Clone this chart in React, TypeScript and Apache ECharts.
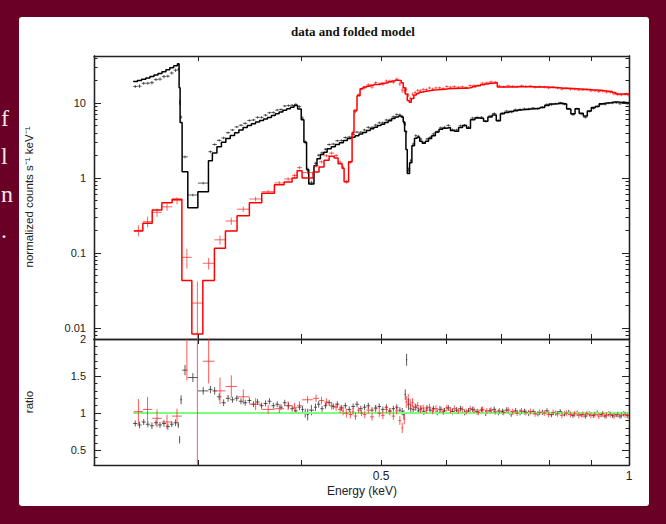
import React, { useEffect, useRef } from 'react';
import * as echarts from 'echarts';

// ---------- axis ranges and ticks ----------
const energyRange = [0.2241, 1.0];
const countsRange = [0.0071, 42.4];
const ratioRange = [0.3, 2.0];

const energyTicks = [0.3, 0.4, 0.5, 0.6, 0.7, 0.8, 0.9, 1.0];
const energyLabelValues = [0.5, 1.0];
const energyLabels = ['0.5', '1'];
const countsMajor = [0.01, 0.1, 1, 10];
const countsLabels = ['0.01', '0.1', '1', '10'];
const countsMinor = [0.008, 0.009, 0.02, 0.03, 0.04, 0.05, 0.06, 0.07, 0.08, 0.09, 0.2, 0.3, 0.4, 0.5, 0.6, 0.7, 0.8, 0.9, 2, 3, 4, 5, 6, 7, 8, 9, 20, 30, 40];
const ratioMajor = [0.5, 1, 1.5, 2];
const ratioLabels = ['0.5', '1', '1.5', '2'];
const ratioMinor = [0.3, 0.4, 0.6, 0.7, 0.8, 0.9, 1.1, 1.2, 1.3, 1.4, 1.6, 1.7, 1.8, 1.9];
const unityLine = [0.25, 1.0];

// ---------- black spectrum (bin edges keV, folded model, data/model ratio, ratio error) ----------
const blackEdges = [
  0.25, 0.253, 0.256, 0.259, 0.262, 0.265, 0.268, 0.271, 0.274, 0.277, 0.28, 0.283,
  0.2843, 0.2851, 0.2867, 0.2913, 0.2996, 0.3086,
  0.312, 0.316, 0.32, 0.324, 0.328, 0.332, 0.336, 0.34, 0.344, 0.348, 0.352, 0.356, 0.36, 0.364, 0.368, 0.372, 0.376, 0.38, 0.384, 0.388, 0.392, 0.396, 0.4,
  0.403, 0.406, 0.4085, 0.4145,
  0.418, 0.422, 0.426, 0.43, 0.435, 0.44, 0.445, 0.45, 0.455, 0.46, 0.465, 0.47, 0.475, 0.48, 0.485, 0.49, 0.495, 0.5, 0.505, 0.51, 0.515, 0.52, 0.525, 0.529,
  0.532, 0.534, 0.536, 0.538, 0.5415, 0.545,
  0.549, 0.553, 0.557, 0.561, 0.566, 0.571, 0.576, 0.582, 0.588, 0.594, 0.6, 0.607, 0.614, 0.621, 0.628, 0.635, 0.642, 0.65, 0.658, 0.666, 0.674, 0.682, 0.69, 0.698, 0.706, 0.715, 0.724, 0.733, 0.742, 0.751, 0.76,
  0.77, 0.78, 0.79, 0.8, 0.81, 0.82, 0.83, 0.84, 0.85, 0.86, 0.87, 0.88, 0.89, 0.9, 0.91, 0.92, 0.93, 0.94, 0.95, 0.96, 0.97, 0.98, 0.99, 1.0,
];
const blackModel = [
  19.3, 20.0, 20.8, 21.6, 22.5, 23.6, 24.8, 26.2, 27.8, 29.6, 31.5,
  33.5, 16, 5.5, 1.21, 0.40, 0.657,
  1.7, 2.15, 2.6, 3.0, 3.35, 3.7, 4.0, 4.36, 4.7, 5.0, 5.3, 5.6, 5.85, 6.1, 6.4, 6.8, 7.2, 7.6, 8.0, 8.4, 8.8, 9.3, 8.3,
  6.0, 3.0, 1.3, 0.83,
  1.45, 1.8, 2.05, 2.2, 2.45, 2.6, 2.8, 2.95, 3.15, 3.35, 3.5, 3.65, 3.85, 4.05, 4.3, 4.55, 4.75, 5.0, 5.2, 5.5, 5.8, 6.2, 6.5, 6.7,
  6.5, 5.6, 4.2, 2.4, 1.15, 1.6,
  2.7, 3.4, 3.5, 3.1, 2.9, 3.1, 3.35, 3.65, 4.1, 4.45, 4.6, 4.7, 4.3, 4.2, 4.7, 5.0, 4.6, 6.0, 6.3, 6.2, 5.7, 6.5, 6.9, 5.8, 7.2, 7.5, 7.7, 7.9, 8.1, 8.2, 8.3,
  8.4, 8.5, 8.7, 9.3, 9.7, 9.8, 9.9, 9.7, 8.3, 7.2, 8.4, 7.3, 6.7, 7.8, 8.7, 9.0, 9.8, 10.0, 10.1, 10.3, 10.3, 10.2, 10.2, 10.1,
];
const blackRatio = [
  0.86, 0.84, 0.88, 0.85, 0.83, 0.87, 0.84, 0.86, 0.82, 0.85, 0.87,
  0.84, 0.64, 1.18, 1.58, 1.48, 1.30,
  1.32, 1.3, 1.22, 1.14, 1.2, 1.18, 1.2, 1.16, 1.14, 1.17, 1.12, 1.15, 1.1, 1.13, 1.16, 1.1, 1.12, 1.08, 1.14, 1.1, 1.06, 1.03, 1.08,
  1.05, 1.0, 0.98, 1.04,
  1.08, 1.12, 1.06, 1.1, 1.14, 1.09, 1.12, 1.07, 1.1, 1.05, 1.09, 1.12, 1.06, 1.08, 1.1, 1.04, 1.07, 1.09, 1.05, 1.08, 1.03, 1.06, 1.08, 1.04,
  1.02, 0.98, 1.25, 1.72, 1.12, 1.06,
  1.05, 1.08, 1.03, 1.06, 1.02, 1.07, 1.04, 1.06, 1.01, 1.05, 1.03, 1.07, 1.02, 1.04, 1.06, 1.01, 1.03, 1.05, 1.02, 1.04, 1.0, 1.03, 1.05, 1.01, 1.02, 1.04, 0.99, 1.03, 1.01, 1.02, 1.0,
  1.02, 0.99, 1.01, 1.03, 0.98, 1.0, 1.02, 0.99, 1.01, 0.97, 1.0, 0.98, 0.96, 0.99, 0.97, 1.0, 0.98, 0.96, 0.99, 0.97, 0.98, 0.96, 0.99, 0.97,
];
const blackErr = [
  0.04, 0.045, 0.04, 0.04, 0.045, 0.04, 0.04, 0.045, 0.04, 0.04, 0.045,
  0.04, 0.05, 0.06, 0.07, 0.06, 0.05,
  0.05, 0.05, 0.045, 0.045, 0.045, 0.04, 0.04, 0.04, 0.04, 0.04, 0.04, 0.04, 0.04, 0.04, 0.04, 0.04, 0.04, 0.04, 0.04, 0.04, 0.04, 0.04, 0.04,
  0.05, 0.06, 0.08, 0.07,
  0.05, 0.045, 0.04, 0.04, 0.04, 0.04, 0.04, 0.04, 0.04, 0.04, 0.04, 0.04, 0.04, 0.04, 0.04, 0.04, 0.04, 0.04, 0.04, 0.04, 0.04, 0.04, 0.04, 0.04,
  0.05, 0.06, 0.07, 0.08, 0.08, 0.06,
  0.05, 0.045, 0.045, 0.045, 0.045, 0.04, 0.04, 0.04, 0.04, 0.04, 0.04, 0.04, 0.04, 0.04, 0.04, 0.04, 0.04, 0.04, 0.04, 0.04, 0.04, 0.04, 0.04, 0.04, 0.04, 0.04, 0.04, 0.04, 0.04, 0.04, 0.04,
  0.035, 0.035, 0.035, 0.035, 0.035, 0.035, 0.035, 0.035, 0.035, 0.035, 0.035, 0.035, 0.035, 0.035, 0.035, 0.035, 0.035, 0.035, 0.035, 0.035, 0.035, 0.035, 0.035, 0.035,
];

// ---------- red spectrum ----------
const redEdges = [
  0.2505, 0.2569, 0.2637, 0.2709, 0.2788, 0.2865, 0.2946, 0.3038, 0.3138, 0.3236, 0.3343, 0.346, 0.3582, 0.3711, 0.3813, 0.3899, 0.3954, 0.4009, 0.4134, 0.4204, 0.4263, 0.4324, 0.4385, 0.4434, 0.4484, 0.4509, 0.4566, 0.4611, 0.4636, 0.4675, 0.4715, 0.4755,
  0.48, 0.485, 0.49, 0.495, 0.5, 0.505, 0.51, 0.515, 0.52, 0.525, 0.529, 0.532, 0.535, 0.538, 0.541, 0.544, 0.548, 0.552, 0.556, 0.56, 0.565, 0.57, 0.575, 0.58, 0.586, 0.592, 0.598, 0.604, 0.61, 0.617, 0.624, 0.631, 0.638, 0.645, 0.652, 0.66, 0.668, 0.676, 0.684, 0.692, 0.7, 0.709, 0.718, 0.727, 0.736, 0.745, 0.754, 0.764, 0.774, 0.784, 0.794, 0.804, 0.814, 0.824, 0.834, 0.844, 0.854, 0.864, 0.874, 0.884, 0.894, 0.904, 0.914, 0.924, 0.934, 0.944, 0.954, 0.964, 0.974, 0.984, 0.994, 1.0,
];
const redModel = [
  0.196, 0.249, 0.374, 0.468, 0.52, 0.0428, 0.0083, 0.0428, 0.115, 0.196, 0.314, 0.468, 0.625, 0.81, 0.88, 1.0, 1.25, 1.0, 1.2, 1.4, 1.72, 1.95, 1.85, 1.55, 1.35, 0.89, 1.65, 4.0, 8.0, 12.5, 15.5,
  16.3, 16.8, 17.2, 17.6, 17.9, 18.3, 18.7, 19.2, 19.7, 20.2, 20.0, 18.6, 16.0, 13.2, 10.8, 10.2, 11.5, 12.8, 13.4, 13.9,
  14.2, 14.5, 14.7, 14.9, 15.0, 15.2, 15.3, 15.5, 15.6, 15.6, 15.7, 15.7, 15.8, 16.1, 16.5, 17.0, 17.5, 18.0, 18.4, 18.6,
  16.4, 16.3, 16.3, 16.4, 16.5, 16.5, 16.5, 16.5, 16.4, 16.4, 16.3, 16.2, 16.1, 16.0, 15.8, 15.7, 15.6, 15.5, 15.4, 15.3,
  15.2, 15.0, 14.9, 14.8, 14.6, 14.4, 14.2, 13.8, 13.2, 13.2, 13.3, 13.2,
];
const redRatio = [
  1.02, 1.05, 0.93, 0.88, 0.96, 2.04, 2.58, 1.70, 1.30, 1.36, 1.22, 1.12, 1.05, 1.06, 1.1, 1.08, 1.1, 1.18, 1.2, 1.17, 1.15, 1.1, 1.08, 1.05, 1.03, 1.0, 0.98, 1.02, 0.96, 1.04, 1.0,
  0.98, 1.04, 0.95, 1.06, 1.0, 0.97, 1.05, 1.02, 0.96, 1.03, 0.9, 0.8, 0.92, 1.15, 1.18, 1.12, 1.14, 1.08, 1.1, 1.05,
  1.07, 1.04, 1.08, 1.03, 1.06, 1.05, 1.02, 1.07, 1.04, 1.06, 1.03, 1.05, 1.02, 1.06, 1.04, 1.01, 1.05, 1.03, 1.04, 1.02,
  1.03, 1.01, 1.04, 1.02, 1.0, 1.03, 1.01, 1.02, 0.99, 1.01, 1.0, 0.98, 1.01, 0.99, 0.97, 1.0, 0.98, 0.99, 0.97, 0.98,
  0.99, 0.97, 0.98, 0.96, 0.99, 0.97, 0.98, 0.96, 0.98, 0.97, 0.98, 0.97,
];
const redErr = [
  0.17, 0.17, 0.12, 0.1, 0.1, 0.6, 2.4, 0.3, 0.18, 0.15, 0.1, 0.08, 0.06, 0.06, 0.06, 0.06, 0.06, 0.05, 0.05, 0.05, 0.05, 0.05, 0.05, 0.05, 0.06, 0.06, 0.05, 0.05, 0.05, 0.04, 0.04,
  0.05, 0.05, 0.05, 0.05, 0.05, 0.05, 0.05, 0.05, 0.05, 0.05, 0.06, 0.07, 0.07, 0.08, 0.08, 0.07, 0.06, 0.05, 0.05, 0.05,
  0.045, 0.045, 0.045, 0.045, 0.045, 0.045, 0.045, 0.045, 0.045, 0.045, 0.04, 0.04, 0.04, 0.04, 0.04, 0.04, 0.04, 0.04, 0.04, 0.04,
  0.04, 0.04, 0.04, 0.04, 0.04, 0.04, 0.04, 0.04, 0.04, 0.04, 0.04, 0.04, 0.04, 0.04, 0.04, 0.04, 0.04, 0.04, 0.04, 0.04,
  0.04, 0.04, 0.04, 0.04, 0.04, 0.04, 0.04, 0.04, 0.04, 0.04, 0.04, 0.04,
];

// slide text fragments visible at the left edge
const sideFragments = ['f', 'l', 'n', '.'];

// ---------- helpers ----------
const lg = (v: number) => Math.log10(v);
const SANS = '"Liberation Sans", Arial, Helvetica, sans-serif';
const SERIF = '"Liberation Serif", "DejaVu Serif", serif';
const INK = '#222';

function stepPoints(edges: number[], model: number[]) {
  const pts: number[][] = model.map((m, i) => [lg(edges[i]), lg(m)]);
  pts.push([lg(edges[edges.length - 1]), lg(model[model.length - 1])]);
  return pts;
}

function topCrosses(edges: number[], model: number[], ratio: number[], err: number[]) {
  return model.map((m, i) => {
    const lo = edges[i];
    const hi = edges[i + 1];
    const d = m * ratio[i];
    const e = m * err[i];
    const yl = Math.max(d - e, 1e-4);
    return [lg(lo), lg(hi), lg((lo + hi) / 2), lg(d), lg(yl), lg(d + e)];
  });
}

function ratioCrosses(edges: number[], ratio: number[], err: number[]) {
  return ratio.map((r, i) => {
    const lo = edges[i];
    const hi = edges[i + 1];
    return [lg(lo), lg(hi), lg((lo + hi) / 2), r, r - err[i], r + err[i]];
  });
}

function crossRenderer(color: string, width: number, opacity: number) {
  return (params: any, api: any) => {
    const a = api.coord([api.value(0), api.value(3)]);
    const b = api.coord([api.value(1), api.value(3)]);
    const c = api.coord([api.value(2), api.value(4)]);
    const d = api.coord([api.value(2), api.value(5)]);
    const style = { stroke: color, lineWidth: width, opacity, fill: null };
    return {
      type: 'group',
      children: [
        { type: 'line', shape: { x1: a[0], y1: a[1], x2: b[0], y2: b[1] }, style },
        { type: 'line', shape: { x1: c[0], y1: c[1], x2: d[0], y2: d[1] }, style },
      ],
    };
  };
}

function labelPicker(values: number[], labels: string[], tf: (v: number) => number) {
  return (v: number) => {
    const i = values.findIndex((t) => Math.abs(tf(t) - v) < 1e-6);
    return i >= 0 ? labels[i] : '';
  };
}

const ident = (v: number) => v;
const lineStyle = { color: INK, width: 1.3 };
const tickStyle = { color: INK, width: 1 };

function xAxisCfg(gridIndex: number, position: string, withLabels: boolean, show = true) {
  return {
    type: 'value',
    gridIndex,
    position,
    show,
    min: lg(energyRange[0]),
    max: lg(energyRange[1]),
    axisLine: { show: true, onZero: false, lineStyle },
    axisTick: { show: true, inside: true, length: 5, customValues: energyTicks.map(lg), lineStyle: tickStyle },
    axisLabel: {
      show: withLabels,
      customValues: energyLabelValues.map(lg),
      formatter: labelPicker(energyLabelValues, energyLabels, lg),
      margin: 5,
      fontSize: 12,
      fontFamily: SANS,
      color: INK,
    },
    splitLine: { show: false },
  };
}

function yAxisCfg(
  gridIndex: number,
  position: string,
  range: number[],
  tf: (v: number) => number,
  ticks: number[],
  len: number,
  labelValues: number[] | null,
  labels: string[] | null,
) {
  return {
    type: 'value',
    gridIndex,
    position,
    min: tf(range[0]),
    max: tf(range[1]),
    axisLine: { show: true, onZero: false, lineStyle },
    axisTick: { show: true, inside: true, length: len, customValues: ticks.map(tf), lineStyle: tickStyle },
    axisLabel: labelValues
      ? {
          show: true,
          customValues: labelValues.map(tf),
          formatter: labelPicker(labelValues, labels as string[], tf),
          margin: 8,
          fontSize: 11,
          fontFamily: SANS,
          color: INK,
        }
      : { show: false },
    splitLine: { show: false },
  };
}

function buildOption() {
  const topGrid = { left: 94, top: 56, width: 535, height: 283, outerBoundsMode: 'none' };
  const ratioGrid = { left: 94, top: 339, width: 535, height: 126, outerBoundsMode: 'none' };
  const centered = { textAlign: 'center', textVerticalAlign: 'middle', align: 'center', verticalAlign: 'middle' };
  return {
    animation: false,
    backgroundColor: 'transparent',
    grid: [topGrid, ratioGrid, { ...topGrid }, { ...ratioGrid }],
    xAxis: [
      xAxisCfg(0, 'bottom', false),
      xAxisCfg(0, 'top', false),
      xAxisCfg(1, 'bottom', true),
      xAxisCfg(1, 'top', false),
      xAxisCfg(2, 'bottom', false, false),
      xAxisCfg(3, 'bottom', false, false),
    ],
    yAxis: [
      yAxisCfg(0, 'left', countsRange, lg, countsMajor, 7, countsMajor, countsLabels),
      yAxisCfg(0, 'right', countsRange, lg, countsMajor, 7, null, null),
      yAxisCfg(1, 'left', ratioRange, ident, ratioMajor, 7, ratioMajor, ratioLabels),
      yAxisCfg(1, 'right', ratioRange, ident, ratioMajor, 7, null, null),
      yAxisCfg(2, 'left', countsRange, lg, countsMinor, 3.5, null, null),
      yAxisCfg(2, 'right', countsRange, lg, countsMinor, 3.5, null, null),
      yAxisCfg(3, 'left', ratioRange, ident, ratioMinor, 3.5, null, null),
      yAxisCfg(3, 'right', ratioRange, ident, ratioMinor, 3.5, null, null),
    ],
    series: [
      {
        type: 'line', xAxisIndex: 0, yAxisIndex: 0, step: 'end', symbol: 'none', silent: true,
        data: stepPoints(blackEdges, blackModel),
        lineStyle: { color: '#000', width: 1.5 }, z: 3,
      },
      {
        type: 'custom', xAxisIndex: 0, yAxisIndex: 0, clip: true, silent: true,
        data: topCrosses(blackEdges, blackModel, blackRatio, blackErr),
        encode: { x: [0, 1, 2], y: [3, 4, 5] },
        renderItem: crossRenderer('#333', 1, 0.8), z: 3,
      },
      {
        type: 'line', xAxisIndex: 0, yAxisIndex: 0, step: 'end', symbol: 'none', silent: true,
        data: stepPoints(redEdges, redModel),
        lineStyle: { color: '#ff0000', width: 1.5 }, z: 4,
      },
      {
        type: 'custom', xAxisIndex: 0, yAxisIndex: 0, clip: true, silent: true,
        data: topCrosses(redEdges, redModel, redRatio, redErr),
        encode: { x: [0, 1, 2], y: [3, 4, 5] },
        renderItem: crossRenderer('#ff2020', 1, 0.7), z: 4,
      },
      {
        type: 'custom', xAxisIndex: 2, yAxisIndex: 2, clip: true, silent: true,
        data: ratioCrosses(blackEdges, blackRatio, blackErr),
        encode: { x: [0, 1, 2], y: [3, 4, 5] },
        renderItem: crossRenderer('#333', 1, 0.8), z: 3,
      },
      {
        type: 'line', xAxisIndex: 2, yAxisIndex: 2, symbol: 'none', silent: true,
        data: unityLine.map((e) => [lg(e), 1]),
        lineStyle: { color: '#7dff7d', width: 2 }, z: 4,
      },
      {
        type: 'custom', xAxisIndex: 2, yAxisIndex: 2, clip: true, silent: true,
        data: ratioCrosses(redEdges, redRatio, redErr),
        encode: { x: [0, 1, 2], y: [3, 4, 5] },
        renderItem: crossRenderer('#ff2020', 1, 0.75), z: 5,
      },
    ],
    graphic: [
      {
        type: 'text', x: 353, y: 31, z: 10,
        style: { text: 'data and folded model', font: `bold 13px ${SERIF}`, fill: '#111', ...centered },
      },
      {
        type: 'text', x: 29, y: 197, rotation: Math.PI / 2, z: 10,
        style: { text: 'normalized counts s⁻¹ keV⁻¹', font: `11.5px ${SANS}`, fill: INK, ...centered },
      },
      {
        type: 'text', x: 29, y: 402, rotation: Math.PI / 2, z: 10,
        style: { text: 'ratio', font: `11.5px ${SANS}`, fill: INK, ...centered },
      },
      {
        type: 'text', x: 362, y: 491, z: 10,
        style: { text: 'Energy (keV)', font: `12px ${SANS}`, fill: INK, ...centered },
      },
      ...sideFragments.map((t, i) => ({
        type: 'text', x: 1, y: [118, 156, 194, 230][i], z: 10,
        style: {
          text: t, font: `24px ${SERIF}`, fill: '#f3e8ec',
          textAlign: 'left', textVerticalAlign: 'middle', align: 'left', verticalAlign: 'middle',
        },
      })),
    ],
  };
}

export default function App() {
  const ref = useRef<HTMLDivElement>(null);
  useEffect(() => {
    if (!ref.current) return;
    const chart = echarts.init(ref.current, null, { renderer: 'svg' });
    chart.setOption(buildOption() as any);
    return () => chart.dispose();
  }, []);
  return (
    <div style={{ position: 'fixed', left: 0, top: 0, width: 666, height: 524, background: '#6a0026', overflow: 'hidden' }}>
      <div style={{ position: 'absolute', left: 19, top: 17, width: 630, height: 489, background: '#ffffff', borderRadius: 3 }} />
      <div ref={ref} style={{ position: 'absolute', left: 0, top: 0, width: 666, height: 524 }} />
    </div>
  );
}
